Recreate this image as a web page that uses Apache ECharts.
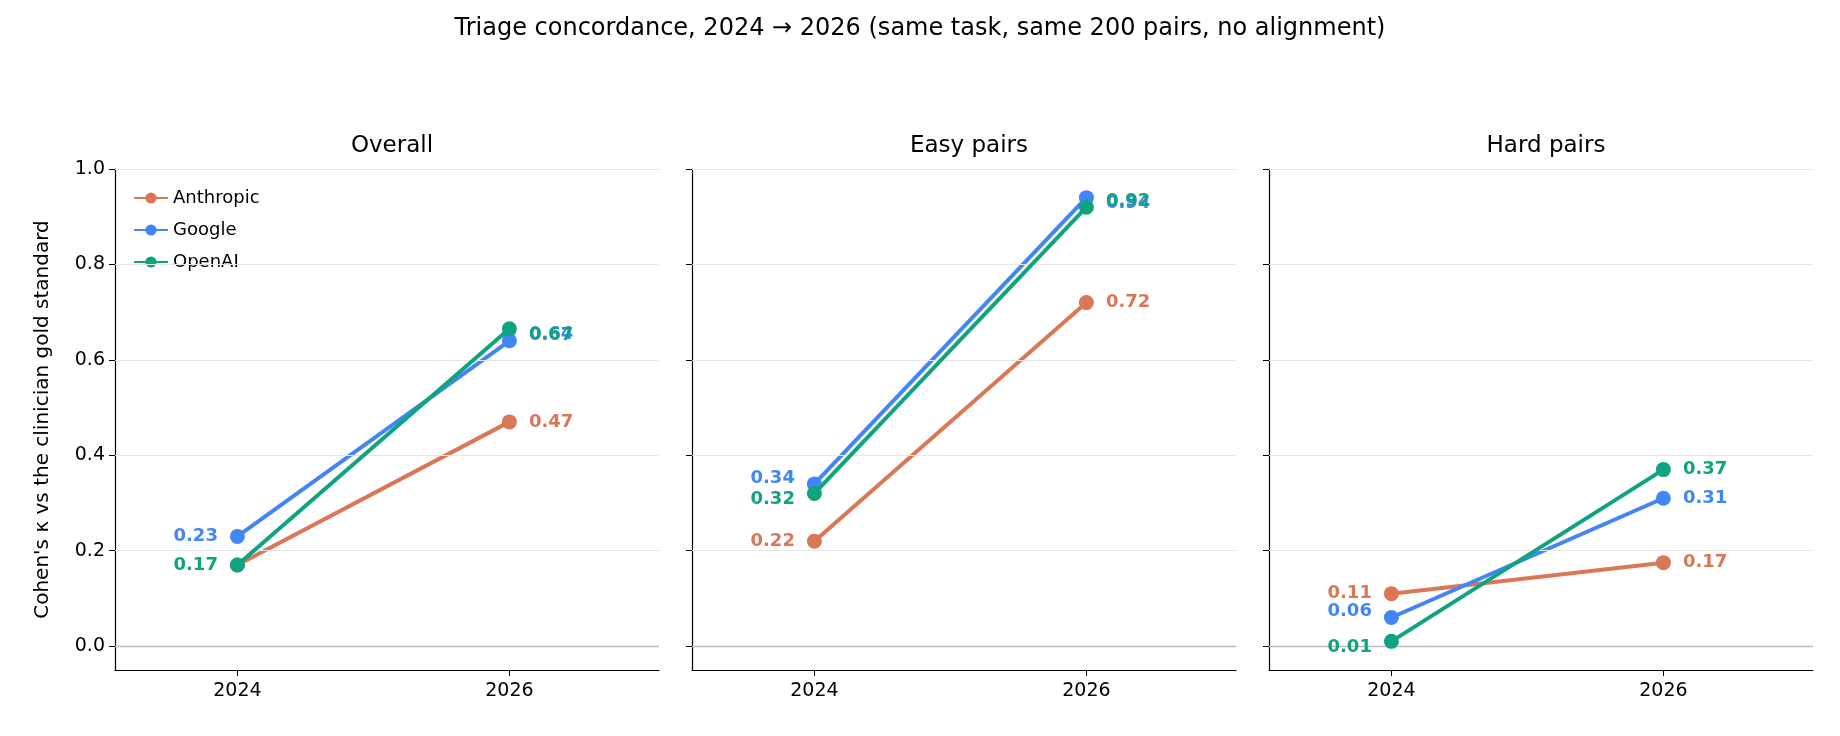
<!DOCTYPE html>
<html><head><meta charset="utf-8">
<script src="https://cdn.jsdelivr.net/npm/echarts@6/dist/echarts.min.js"></script>
<style>html,body{margin:0;padding:0;background:#fff}#c{width:1840px;height:736px}</style>
</head><body><div id="c"></div>
<script>
const years = ['2024', '2026'];
const panels = ['Overall', 'Easy pairs', 'Hard pairs'];
const seriesNames = ['Anthropic', 'Google', 'OpenAI'];
const anthropic = [[0.17, 0.47], [0.22, 0.72], [0.11, 0.175]];
const google = [[0.23, 0.64], [0.34, 0.94], [0.06, 0.31]];
const openai = [[0.17, 0.665], [0.32, 0.92], [0.01, 0.37]];
const yTicks = [0, 0.2, 0.4, 0.6, 0.8, 1.0];
const colors = ['#DA7756', '#4285F4', '#10A37F'];
const allData = [anthropic, google, openai];

const font = 'DejaVu Sans';
const gridL = [115, 692, 1269], gridW = 544;
const grids = [], xAxes = [], yAxes = [], series = [], titles = [];
titles.push({text: 'Triage concordance, 2024 \u2192 2026 (same task, same 200 pairs, no alignment)', left: 'center', top: 12,
  textStyle: {fontFamily: font, fontSize: 24, fontWeight: 'normal', color: '#000'}});

function labelOffset(p, s, j) {
  const v = allData[s][p][j];
  let dy = 0, hide = false;
  for (let o = 0; o < 3; o++) {
    if (o === s) continue;
    const w = allData[o][p][j];
    const d = v - w;
    if (Math.abs(d) < 1e-9) { if (o > s) hide = true; continue; }
    if (Math.abs(d) < 0.05) dy = (d > 0) === (j === 0) ? -6 : 6;
  }
  return {dy, hide};
}

panels.forEach((name, p) => {
  grids.push({left: gridL[p], width: gridW, top: 169, height: 501});
  titles.push({text: name, left: gridL[p] + gridW / 2, textAlign: 'center', top: 130,
    textStyle: {fontFamily: font, fontSize: 23, fontWeight: 'normal', color: '#000'}});
  xAxes.push({gridIndex: p, type: 'value', min: -0.45, max: 1.55,
    axisLine: {onZero: false, lineStyle: {color: '#000', width: 1.2}},
    axisTick: {show: true, inside: false, customValues: [0, 1], length: 6, lineStyle: {color: '#000'}},
    axisLabel: {customValues: [0, 1], formatter: v => years[Math.round(v)], fontFamily: font, fontSize: 19, color: '#000', margin: 12},
    splitLine: {show: false}});
  yAxes.push({gridIndex: p, type: 'value', min: -0.05, max: 1.0,
    name: p === 0 ? "Cohen's \u03ba vs the clinician gold standard" : '', nameLocation: 'middle', nameGap: 62,
    nameTextStyle: {fontFamily: font, fontSize: 20, color: '#000'},
    axisLine: {show: true, onZero: false, lineStyle: {color: '#000', width: 1.2}},
    axisTick: {show: true, inside: false, customValues: yTicks, length: 6, lineStyle: {color: '#000'}},
    axisLabel: {show: true, customValues: yTicks, formatter: v => p === 0 ? v.toFixed(1) : '', fontFamily: font, fontSize: 19, color: '#000', margin: 10},
    splitLine: {show: false}});
  series.push({type: 'line', xAxisIndex: p, yAxisIndex: p, data: [], silent: true,
    markLine: {symbol: 'none', silent: true, label: {show: false},
      data: yTicks.map(t => ({yAxis: t, lineStyle: {color: t === 0 ? '#bbb' : '#e6e6e6', width: t === 0 ? 1.3 : 1, type: 'solid'}}))}});
  seriesNames.forEach((sn, s) => {
    series.push({name: sn, type: 'line', xAxisIndex: p, yAxisIndex: p, z: 3 + s,
      color: colors[s], symbol: 'circle', symbolSize: 15,
      lineStyle: {width: 4, color: colors[s]}, itemStyle: {color: colors[s]},
      data: allData[s][p].map((v, j) => {
        const o = labelOffset(p, s, j);
        return {value: [j, v], label: {show: !o.hide, position: j === 0 ? 'left' : 'right', distance: 12,
          offset: [0, o.dy], formatter: v.toFixed(2).replace('0.175','0.17'),
          color: colors[s], fontFamily: font, fontWeight: 'bold', fontSize: 18}};
      })});
  });
});

const chart = echarts.init(document.getElementById('c'));
chart.setOption({
  animation: false,
  title: titles,
  legend: {data: seriesNames, orient: 'vertical', left: 128, top: 184, itemGap: 14, itemWidth: 34, itemHeight: 14,
    textStyle: {fontFamily: font, fontSize: 18, color: '#000'}},
  grid: grids, xAxis: xAxes, yAxis: yAxes, series: series
});
</script></body></html>
